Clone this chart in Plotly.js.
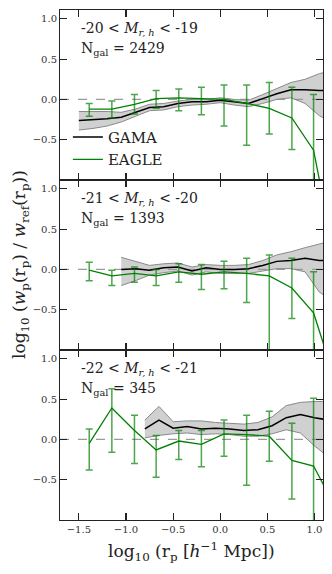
<!DOCTYPE html>
<html>
<head>
<meta charset="utf-8">
<script src="https://cdn.plot.ly/plotly-3.0.1.min.js"></script>
<style>
  html, body { margin: 0; padding: 0; background: #fff; }
  #chart { width: 332px; height: 574px; }
</style>
</head>
<body>
<div id="chart"></div>
<script>
// EAGLE bins (shared by all three panels); last bin sits just past the axis edge
const eagleX = [-1.39, -1.15, -0.91, -0.68, -0.44, -0.20, 0.04, 0.28, 0.52, 0.76, 0.99, 1.23];

const eagleY1 = [-0.12, -0.12, -0.06, 0.01, 0.02, 0.01, 0.00, -0.05, -0.11, -0.23, -0.63, -2.06];
const eagleHi1 = [-0.05, -0.02, 0.06, 0.11, 0.13, 0.15, 0.18, 0.18, 0.21, 0.15, 0.06, null];
const eagleLo1 = [-0.21, -0.23, -0.18, -0.11, -0.14, -0.19, -0.33, -0.57, -0.43, -0.62, -1.20, null];

const eagleY2 = [-0.01, -0.08, -0.05, -0.08, -0.03, -0.06, -0.03, -0.05, -0.08, -0.23, -0.54, -1.42];
const eagleHi2 = [0.09, -0.01, 0.03, 0.00, 0.07, 0.06, 0.10, 0.14, 0.18, 0.14, -0.03, null];
const eagleLo2 = [-0.14, -0.20, -0.16, -0.20, -0.16, -0.25, -0.24, -0.41, -1.20, -0.61, -1.20, null];

const eagleY3 = [-0.05, 0.39, 0.11, -0.13, -0.02, -0.06, 0.07, 0.06, 0.04, -0.26, -0.33, -0.86];
const eagleHi3 = [0.13, 0.63, 0.30, 0.05, 0.11, 0.11, 0.24, 0.30, 0.35, 0.20, 0.51, null];
const eagleLo3 = [-0.38, -0.16, -0.30, -0.47, -0.25, -0.34, -0.21, -0.57, -0.27, -0.74, -1.20, null];

// GAMA ratio with its shaded uncertainty band
const gamaX1 = [-1.50, -1.35, -1.20, -1.05, -0.90, -0.75, -0.60, -0.45, -0.30, -0.15, 0.00, 0.15, 0.30, 0.45, 0.60, 0.75, 0.90, 1.05, 1.20];
const gamaY1 = [-0.26, -0.25, -0.24, -0.22, -0.16, -0.10, -0.09, -0.05, -0.03, -0.03, -0.01, -0.03, -0.05, 0.01, 0.07, 0.12, 0.12, 0.11, 0.11];
const gamaLo1 = [-0.38, -0.36, -0.33, -0.28, -0.21, -0.14, -0.13, -0.09, -0.07, -0.06, -0.04, -0.07, -0.09, -0.05, 0.00, 0.02, -0.05, -0.20, -0.30];
const gamaHi1 = [-0.15, -0.15, -0.15, -0.16, -0.12, -0.06, -0.05, -0.02, 0.00, 0.00, 0.02, 0.00, -0.01, 0.06, 0.14, 0.21, 0.25, 0.32, 0.36];

const gamaX2 = [-1.05, -0.90, -0.75, -0.60, -0.45, -0.30, -0.15, 0.00, 0.15, 0.30, 0.45, 0.60, 0.75, 0.90, 1.05, 1.20];
const gamaY2 = [0.00, 0.01, -0.01, 0.02, 0.03, -0.02, 0.02, 0.00, 0.00, 0.01, 0.05, 0.10, 0.11, 0.14, 0.11, 0.11];
const gamaLo2 = [-0.20, -0.14, -0.07, -0.04, -0.02, -0.07, -0.03, -0.05, -0.05, -0.05, -0.02, 0.01, 0.01, -0.03, -0.28, -0.40];
const gamaHi2 = [0.15, 0.10, 0.05, 0.07, 0.08, 0.03, 0.06, 0.05, 0.05, 0.06, 0.11, 0.18, 0.22, 0.27, 0.32, 0.36];

const gamaX3 = [-0.80, -0.65, -0.50, -0.35, -0.20, -0.05, 0.10, 0.25, 0.40, 0.55, 0.70, 0.85, 1.00, 1.15];
const gamaY3 = [0.13, 0.24, 0.14, 0.16, 0.13, 0.14, 0.13, 0.11, 0.12, 0.17, 0.27, 0.31, 0.27, 0.24];
const gamaLo3 = [0.02, 0.05, 0.07, 0.08, 0.06, 0.07, 0.06, 0.04, 0.04, 0.07, 0.12, 0.08, -0.08, -0.22];
const gamaHi3 = [0.24, 0.41, 0.22, 0.23, 0.23, 0.21, 0.20, 0.19, 0.21, 0.28, 0.42, 0.46, 0.47, 0.47];

const panelLabels = [
  "-20 &lt; <i>M</i><sub><i>r, h</i></sub> &lt; -19",
  "-21 &lt; <i>M</i><sub><i>r, h</i></sub> &lt; -20",
  "-22 &lt; <i>M</i><sub><i>r, h</i></sub> &lt; -21",
];
const galaxyCounts = [2429, 1393, 345];

const xTickVals = [-1.5, -1.0, -0.5, 0.0, 0.5, 1.0];
const xTickText = ["\u22121.5", "\u22121.0", "\u22120.5", "0.0", "0.5", "1.0"];
const yTickVals = [-0.5, 0.0, 0.5, 1.0];
const yTickText = ["\u22120.5", "0.0", "0.5", "1.0"];

const FONT = "DejaVu Serif, serif";
const EAGLE_GREEN = "#008000";

const panels = [
  { gx: gamaX1, gy: gamaY1, glo: gamaLo1, ghi: gamaHi1, ey: eagleY1, ehi: eagleHi1, elo: eagleLo1 },
  { gx: gamaX2, gy: gamaY2, glo: gamaLo2, ghi: gamaHi2, ey: eagleY2, ehi: eagleHi2, elo: eagleLo2 },
  { gx: gamaX3, gy: gamaY3, glo: gamaLo3, ghi: gamaHi3, ey: eagleY3, ehi: eagleHi3, elo: eagleLo3 },
];

function axisSuffix(i) {
  return i === 0 ? "" : String(i + 1);
}

const traces = [];
panels.forEach((p, i) => {
  const xa = "x" + axisSuffix(i);
  const ya = "y" + axisSuffix(i);
  const band = { color: "#8a8a8a", width: 1 };

  traces.push({ x: p.gx, y: p.glo, xaxis: xa, yaxis: ya, type: "scatter", mode: "lines",
    line: band, showlegend: false, hoverinfo: "skip" });
  traces.push({ x: p.gx, y: p.ghi, xaxis: xa, yaxis: ya, type: "scatter", mode: "lines",
    line: band, fill: "tonexty", fillcolor: "rgba(150,150,150,0.45)", showlegend: false, hoverinfo: "skip" });
  traces.push({ x: p.gx, y: p.gy, xaxis: xa, yaxis: ya, type: "scatter", mode: "lines",
    name: "GAMA", line: { color: "#000", width: 1.5 }, showlegend: i === 0 });

  const up = p.ey.map((v, k) => (p.ehi[k] == null ? 0 : p.ehi[k] - v));
  const down = p.ey.map((v, k) => (p.elo[k] == null ? 0 : v - p.elo[k]));
  traces.push({ x: eagleX, y: p.ey, xaxis: xa, yaxis: ya, type: "scatter", mode: "lines",
    name: "EAGLE", line: { color: EAGLE_GREEN, width: 1.3 }, showlegend: i === 0,
    error_y: { type: "data", symmetric: false, array: up, arrayminus: down,
      color: "rgba(0,128,0,0.7)", thickness: 1.5, width: 3.5 } });
});

const domains = [[2 / 3, 1], [1 / 3, 2 / 3], [0, 1 / 3]];

const layout = {
  width: 332,
  height: 574,
  margin: { l: 60, r: 9, t: 10, b: 54 },
  paper_bgcolor: "#fff",
  plot_bgcolor: "#fff",
  font: { family: FONT, color: "#222", size: 10 },
  showlegend: true,
  legend: {
    x: 0.03, y: 0.783, xanchor: "left", yanchor: "top", traceorder: "normal",
    bgcolor: "rgba(0,0,0,0)", font: { family: FONT, size: 15, color: "#222" },
    tracegroupgap: 0, itemwidth: 30,
  },
  shapes: [],
  annotations: [],
};

panels.forEach((p, i) => {
  const s = axisSuffix(i);
  layout["xaxis" + s] = {
    anchor: "y" + s,
    domain: [0, 1],
    range: [-1.7, 1.09],
    matches: i === 0 ? undefined : "x",
    tickvals: xTickVals,
    ticktext: xTickText,
    showticklabels: i === 2,
    ticks: "inside", ticklen: 7, tickwidth: 1.2, tickcolor: "#222",
    showline: true, linecolor: "#222", linewidth: 1, mirror: "ticks",
    showgrid: false, zeroline: false,
    tickfont: { family: FONT, size: 10, color: "#333" },
  };
  layout["yaxis" + s] = {
    anchor: "x" + s,
    domain: domains[i],
    range: [-1.0, 1.11],
    tickvals: yTickVals,
    ticktext: yTickText,
    ticks: "inside", ticklen: 7, tickwidth: 1.2, tickcolor: "#222",
    showline: true, linecolor: "#222", linewidth: 1, mirror: "ticks",
    showgrid: false, zeroline: false,
    tickfont: { family: FONT, size: 10, color: "#333" },
  };

  layout.shapes.push({
    type: "line", xref: "x" + s + " domain", yref: "y" + s,
    x0: 0, x1: 1, y0: 0, y1: 0, layer: "below",
    line: { color: "#9a9a9a", width: 1.2, dash: "dash" },
  });

  layout.annotations.push({
    xref: "x" + s, yref: "y" + s, x: -1.5, y: 0.87, xanchor: "left", yanchor: "middle",
    text: panelLabels[i], showarrow: false, font: { family: FONT, size: 14, color: "#222" },
  });
  layout.annotations.push({
    xref: "x" + s, yref: "y" + s, x: -1.5, y: 0.62, xanchor: "left", yanchor: "middle",
    text: "N<sub>gal</sub> = " + galaxyCounts[i], showarrow: false,
    font: { family: FONT, size: 14, color: "#222" },
  });
});

// Axis titles, placed to sit where the reference has them
layout.annotations.push({
  xref: "paper", yref: "paper", x: 0.5, y: -0.062, xanchor: "center", yanchor: "middle",
  text: "log<sub>10</sub> (r<sub>p</sub> [<i>h</i><sup>\u22121</sup> Mpc])",
  showarrow: false, font: { family: FONT, size: 17, color: "#222" },
});
layout.annotations.push({
  xref: "paper", yref: "paper", x: -0.152, y: 0.5, xanchor: "center", yanchor: "middle",
  textangle: -90,
  text: "log<sub>10</sub> (<i>w</i><sub>p</sub>(r<sub>p</sub>) / <i>w</i><sub>ref</sub>(r<sub>p</sub>))",
  showarrow: false, font: { family: FONT, size: 17, color: "#222" },
});

Plotly.newPlot("chart", traces, layout, { displayModeBar: false, staticPlot: true });
</script>
</body>
</html>
